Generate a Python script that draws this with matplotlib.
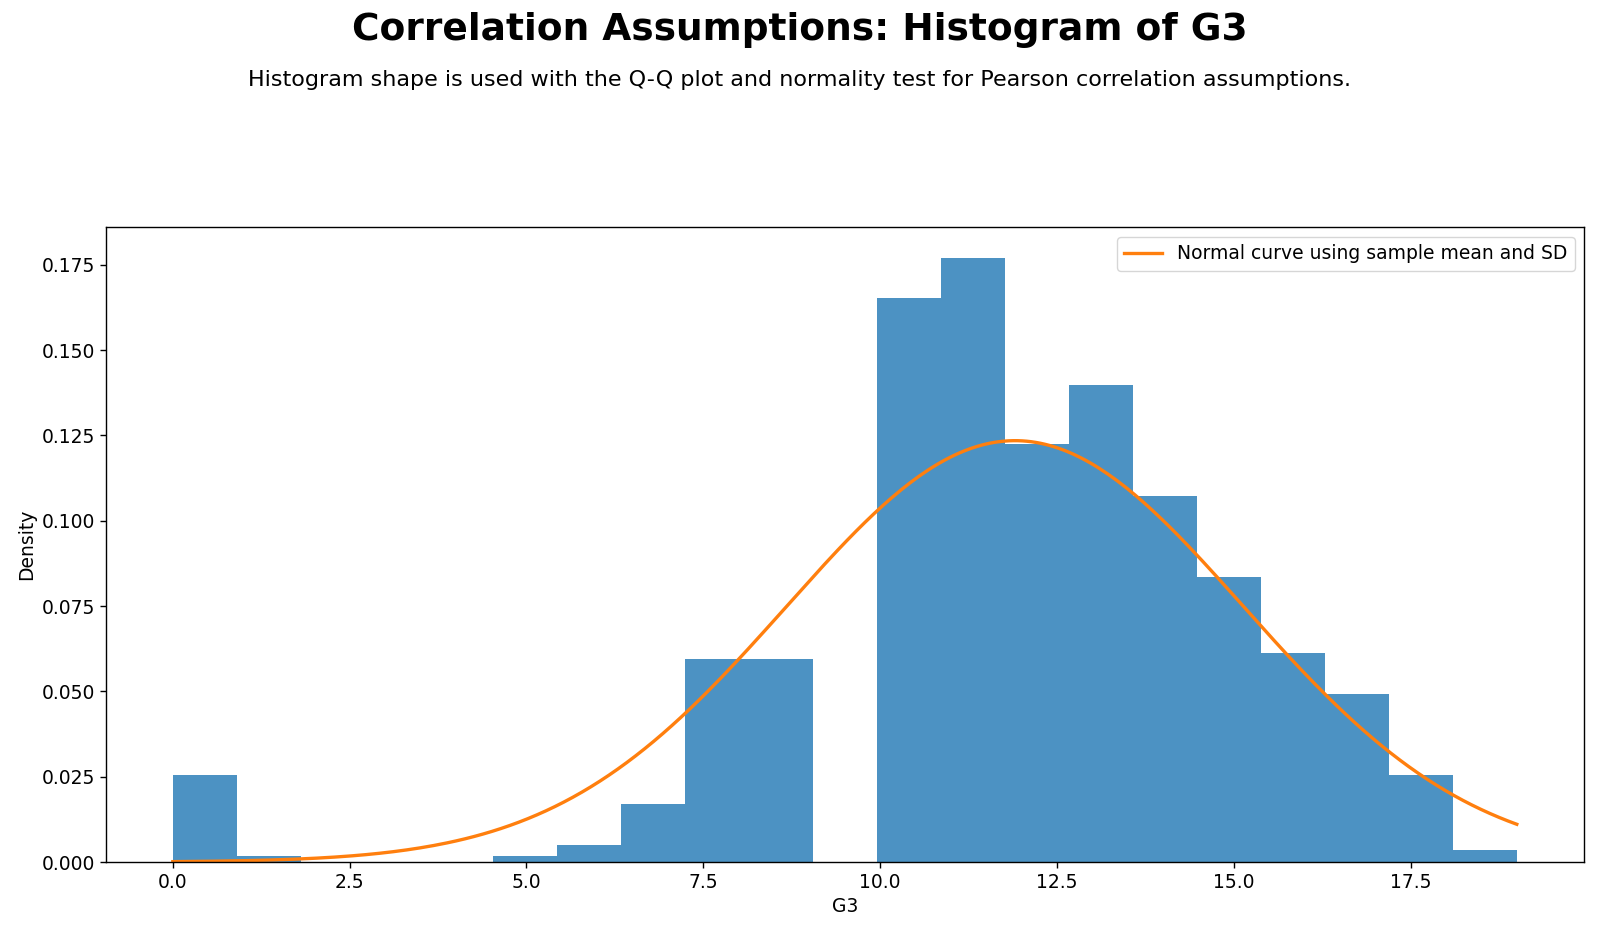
import matplotlib
matplotlib.use("Agg")
import matplotlib.pyplot as plt
import numpy as np

# G3 final grade distribution (value -> number of students)
g3_values = [0, 1, 5, 6, 7, 8, 9, 10, 11, 12, 13, 14, 15, 16, 17, 18, 19]
g3_counts = [15, 1, 1, 3, 10, 35, 35, 97, 104, 72, 82, 63, 49, 36, 29, 15, 2]

g3 = np.repeat(g3_values, g3_counts).astype(float)
mu = g3.mean()
sd = g3.std(ddof=1)

fig = plt.figure(figsize=(16, 9.32), dpi=100)
ax = fig.add_axes([0.066, 0.075, 0.924, 0.681])

ax.hist(g3, bins=21, density=True, histtype="stepfilled", color="#1f77b4", alpha=0.8,
        linewidth=0.8)

xs = np.linspace(g3.min(), g3.max(), 300)
pdf = np.exp(-0.5 * ((xs - mu) / sd) ** 2) / (sd * np.sqrt(2 * np.pi))
ax.plot(xs, pdf, color="#ff7f0e", linewidth=2.4, label="Normal curve using sample mean and SD")

ax.set_xlabel("G3", fontsize=13.5)
ax.set_ylabel("Density", fontsize=13.5)
ax.tick_params(labelsize=13.5, length=4.2, width=1)
for s in ax.spines.values():
    s.set_linewidth(1)
ax.legend(loc="upper right", fontsize=13.5)

fig.text(0.5, 0.968, "Correlation Assumptions: Histogram of G3", ha="center", va="center",
         fontsize=27, fontweight="bold")
fig.text(0.5, 0.914, "Histogram shape is used with the Q-Q plot and normality test for Pearson correlation assumptions.",
         ha="center", va="center", fontsize=16)

fig.savefig("out.png", dpi=100)
